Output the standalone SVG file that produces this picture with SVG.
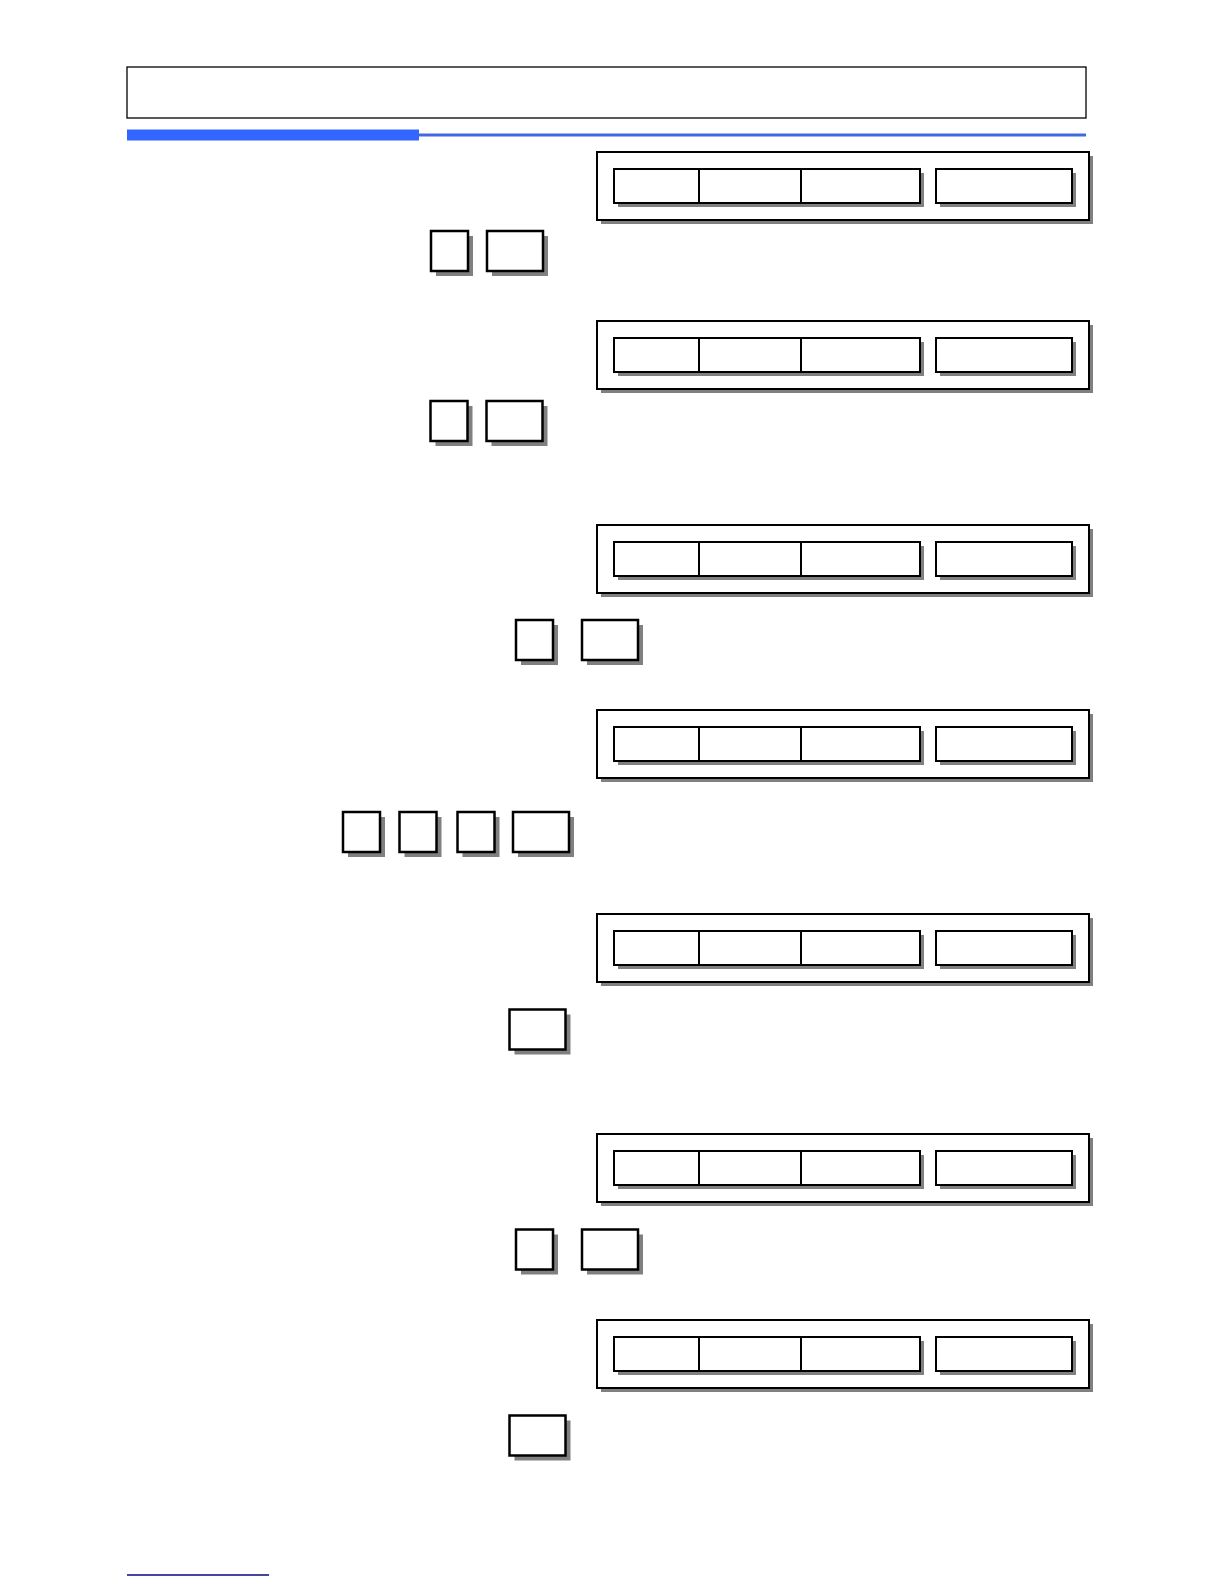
<svg xmlns="http://www.w3.org/2000/svg" xmlns:xlink="http://www.w3.org/1999/xlink" width="1224" height="1584" viewBox="0 0 1224 1584">
<style>
.sh{fill:#808080;stroke:none}
.bx{fill:#fff;stroke:#000;stroke-width:2}
.key{fill:#fff;stroke:#000;stroke-width:2.5}
.dv{stroke:#000;stroke-width:2}
</style>
<defs>
<g id="display">
<rect class="sh" x="4" y="4" width="492" height="68"/>
<rect class="bx" x="0" y="0" width="492" height="68"/>
<rect class="sh" x="21" y="21" width="306" height="34"/>
<rect class="sh" x="343" y="21" width="136" height="34"/>
<rect class="bx" x="17" y="17" width="306" height="34"/>
<line class="dv" x1="102" y1="17" x2="102" y2="51"/>
<line class="dv" x1="204" y1="17" x2="204" y2="51"/>
<rect class="bx" x="339" y="17" width="136" height="34"/>
</g>
<g id="keyS">
<rect class="sh" x="5" y="5" width="37" height="40"/>
<rect class="key" x="0" y="0" width="37" height="40"/>
</g>
<g id="keyW">
<rect class="sh" x="5" y="5" width="56" height="40"/>
<rect class="key" x="0" y="0" width="56" height="40"/>
</g>
</defs>
<rect width="1224" height="1584" fill="#fff"/>
<g id="header">
<rect x="127" y="67" width="959" height="51" fill="#fff" stroke="#000" stroke-width="1.3"/>
<rect x="127" y="129.5" width="292" height="11" fill="#3366ff"/>
<rect x="419" y="133.5" width="667" height="3" fill="#4169e1"/>
</g>
<g id="display1"><use xlink:href="#display" x="597" y="152"/></g>
<g id="keys1"><use xlink:href="#keyS" x="431" y="231"/><use xlink:href="#keyW" x="487" y="231"/></g>
<g id="display2"><use xlink:href="#display" x="597" y="321"/></g>
<g id="keys2"><use xlink:href="#keyS" x="430.5" y="401"/><use xlink:href="#keyW" x="486.5" y="401"/></g>
<g id="display3"><use xlink:href="#display" x="597" y="525"/></g>
<g id="keys3"><use xlink:href="#keyS" x="516" y="620"/><use xlink:href="#keyW" x="582" y="620"/></g>
<g id="display4"><use xlink:href="#display" x="597" y="710"/></g>
<g id="keys4"><use xlink:href="#keyS" x="343" y="812"/><use xlink:href="#keyS" x="399.5" y="812"/><use xlink:href="#keyS" x="457.5" y="812"/><use xlink:href="#keyW" x="513" y="812"/></g>
<g id="display5"><use xlink:href="#display" x="597" y="914"/></g>
<g id="keys5"><use xlink:href="#keyW" x="509.5" y="1009.5"/></g>
<g id="display6"><use xlink:href="#display" x="597" y="1134"/></g>
<g id="keys6"><use xlink:href="#keyS" x="516" y="1229.5"/><use xlink:href="#keyW" x="582" y="1229.5"/></g>
<g id="display7"><use xlink:href="#display" x="597" y="1320"/></g>
<g id="keys7"><use xlink:href="#keyW" x="509.5" y="1415.5"/></g>
<g id="connectors"/>
<g id="footer"><rect x="127" y="1574.2" width="142" height="1.6" fill="#1a1a8c"/></g>
</svg>
